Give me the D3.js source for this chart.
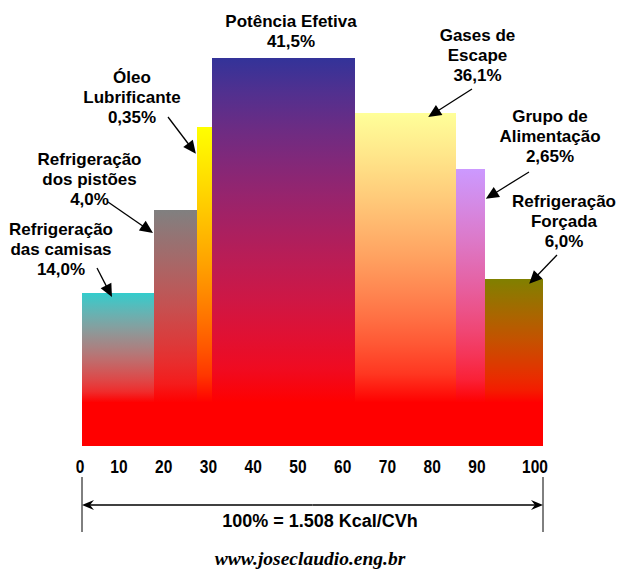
<!DOCTYPE html>
<html>
<head>
<meta charset="utf-8">
<script src="https://cdn.jsdelivr.net/npm/d3@7"></script>
<style>
  body { margin: 0; background: #fff; }
  svg { display: block; }
</style>
</head>
<body>
<svg id="chart" width="617" height="570"></svg>
<script>
// Balanço térmico de um motor diesel: destino do calor do combustível

const categories = [
  "Refrigeração das camisas",
  "Refrigeração dos pistões",
  "Óleo Lubrificante",
  "Potência Efetiva",
  "Gases de Escape",
  "Grupo de Alimentação",
  "Refrigeração Forçada"
];
const labelLines = [
  ["Refrigeração", "das camisas"],
  ["Refrigeração", "dos pistões"],
  ["Óleo", "Lubrificante"],
  ["Potência Efetiva"],
  ["Gases de", "Escape"],
  ["Grupo de", "Alimentação"],
  ["Refrigeração", "Forçada"]
];
// share of the heat input, in %
const shares = [14.0, 4.0, 0.35, 41.5, 36.1, 2.65, 6.0];
// block boundaries along the 0–100 scale
const blockEdges = [0, 15.6, 25.0, 28.2, 59.3, 81.2, 87.4, 100];
// block heights on a relative 0–100 scale
const blockLevels = [39.4, 60.8, 82.2, 100, 85.8, 71.4, 43.0];
const baseLevel = 11.3;
const topColors = ["#33cccc", "#808080", "#ffff00", "#333399", "#ffff99", "#cc99ff", "#808000"];
const baseColor = "#ff0000";
const tickValues = [0, 10, 20, 30, 40, 50, 60, 70, 80, 90, 100];
const totalText = "100% = 1.508 Kcal/CVh";
const siteText = "www.joseclaudio.eng.br";

// ---- layout ----
const x = d3.scaleLinear().domain([0, 100]).range([82, 543]);
const y = d3.scaleLinear().domain([0, 100]).range([446, 58]);
// scale labels sit slightly off the block scale at both ends
const tickPos = d3.scaleLinear().domain([0, 10, 90, 100]).range([80, 119, 477, 535]);

// callout text anchors (px) and arrow tips (scale units)
const callouts = [
  { tx: 61,    ty: 235, from: [97, 268],  tip: [6.5, 38.4] },
  { tx: 89.5,  ty: 165, from: [108, 202], tip: [15.4, 54.9] },
  { tx: 132,   ty: 83,  from: [168, 117], tip: [24.7, 75.3] },
  { tx: 291,   ty: 27,  from: null,       tip: null },
  { tx: 477.5, ty: 41,  from: [472, 89],  tip: [75.1, 84.8] },
  { tx: 550,   ty: 122, from: [529, 172], tip: [87.6, 63.7] },
  { tx: 564,   ty: 207, from: [557, 255], tip: [97.0, 41.8] }
];
const lineGap = 20;
const labelFont = "bold 17px 'Liberation Sans', Arial, sans-serif";

const pct = d3.formatLocale({ decimal: ",", thousands: ".", grouping: [3], currency: ["", ""] });
const fmtShare = v => pct.format(Math.round(v * 10) === v * 10 ? ".1f" : ".2f")(v) + "%";

const svg = d3.select("#chart");
const defs = svg.append("defs");

// vertical gradients: each block fades from its own colour into red
topColors.forEach((c, i) => {
  const interp = d3.interpolateRgb.gamma(1.5)(c, baseColor);
  const g = defs.append("linearGradient")
    .attr("id", "grad" + i)
    .attr("x1", 0).attr("y1", 0).attr("x2", 0).attr("y2", 1);
  d3.range(0, 1.0001, 0.1).forEach(t => {
    g.append("stop").attr("offset", t).attr("stop-color", interp(t));
  });
});

const blocks = categories.map((name, i) => ({
  name, i,
  x0: blockEdges[i], x1: blockEdges[i + 1],
  level: blockLevels[i], share: shares[i]
}));

svg.append("g")
  .selectAll("rect")
  .data(blocks)
  .join("rect")
  .attr("x", d => x(d.x0))
  .attr("width", d => x(d.x1) - x(d.x0))
  .attr("y", d => y(d.level))
  .attr("height", d => y(baseLevel) - y(d.level) + 0.5)
  .attr("fill", d => `url(#grad${d.i})`)
  .attr("shape-rendering", "crispEdges");

// common red base
svg.append("rect")
  .attr("x", x(0)).attr("width", x(100) - x(0))
  .attr("y", y(baseLevel)).attr("height", y(0) - y(baseLevel))
  .attr("fill", baseColor)
  .attr("shape-rendering", "crispEdges");

// callout labels
const labels = svg.append("g").style("font", labelFont).attr("fill", "#000");
blocks.forEach((d, i) => {
  const c = callouts[i];
  const lines = labelLines[i].concat([fmtShare(d.share)]);
  const t = labels.append("text").attr("text-anchor", "middle");
  lines.forEach((s, k) => {
    t.append("tspan").attr("x", c.tx).attr("y", c.ty + k * lineGap).text(s);
  });
});

// callout arrows
function arrow(g, x1, y1, x2, y2, len, half, notch, width) {
  const a = Math.atan2(y2 - y1, x2 - x1);
  const ux = Math.cos(a), uy = Math.sin(a);
  const bx = x2 - ux * len, by = y2 - uy * len;
  g.append("line")
    .attr("x1", x1).attr("y1", y1)
    .attr("x2", x2 - ux * (len - notch - 1)).attr("y2", y2 - uy * (len - notch - 1))
    .attr("stroke", "#000").attr("stroke-width", width);
  const pts = [
    [x2, y2],
    [bx - uy * half, by + ux * half],
    [bx + ux * notch, by + uy * notch],
    [bx + uy * half, by - ux * half]
  ];
  g.append("polygon").attr("points", pts.map(p => p.join(",")).join(" ")).attr("fill", "#000");
}
const arrows = svg.append("g");
callouts.forEach(c => {
  if (!c.from) return;
  arrow(arrows, c.from[0], c.from[1], x(c.tip[0]), y(c.tip[1]), 13, 6, 0, 1.3);
});

// scale labels
svg.append("g")
  .selectAll("text")
  .data(tickValues)
  .join("text")
  .attr("transform", d => `translate(${tickPos(d)},473) scale(0.84,1)`)
  .attr("text-anchor", "middle")
  .style("font", "bold 18.5px 'Liberation Sans', Arial, sans-serif")
  .text(d => d);

// dimension line spanning the whole 100%
const dim = svg.append("g");
[0, 100].forEach(v => {
  dim.append("line")
    .attr("x1", x(v)).attr("x2", x(v)).attr("y1", 477).attr("y2", 532)
    .attr("stroke", "#000").attr("stroke-width", 1);
});
arrow(dim, (x(0) + x(100)) / 2, 505, x(100), 505, 12, 5, 4, 1.3);
arrow(dim, (x(0) + x(100)) / 2, 505, x(0), 505, 12, 5, 4, 1.3);

svg.append("text")
  .attr("x", 320).attr("y", 527)
  .attr("text-anchor", "middle")
  .style("font", "bold 18px 'Liberation Sans', Arial, sans-serif")
  .text(totalText);

svg.append("text")
  .attr("x", 310).attr("y", 565)
  .attr("text-anchor", "middle")
  .style("font", "italic bold 19.5px 'Liberation Serif', 'Times New Roman', serif")
  .text(siteText);
</script>
</body>
</html>
